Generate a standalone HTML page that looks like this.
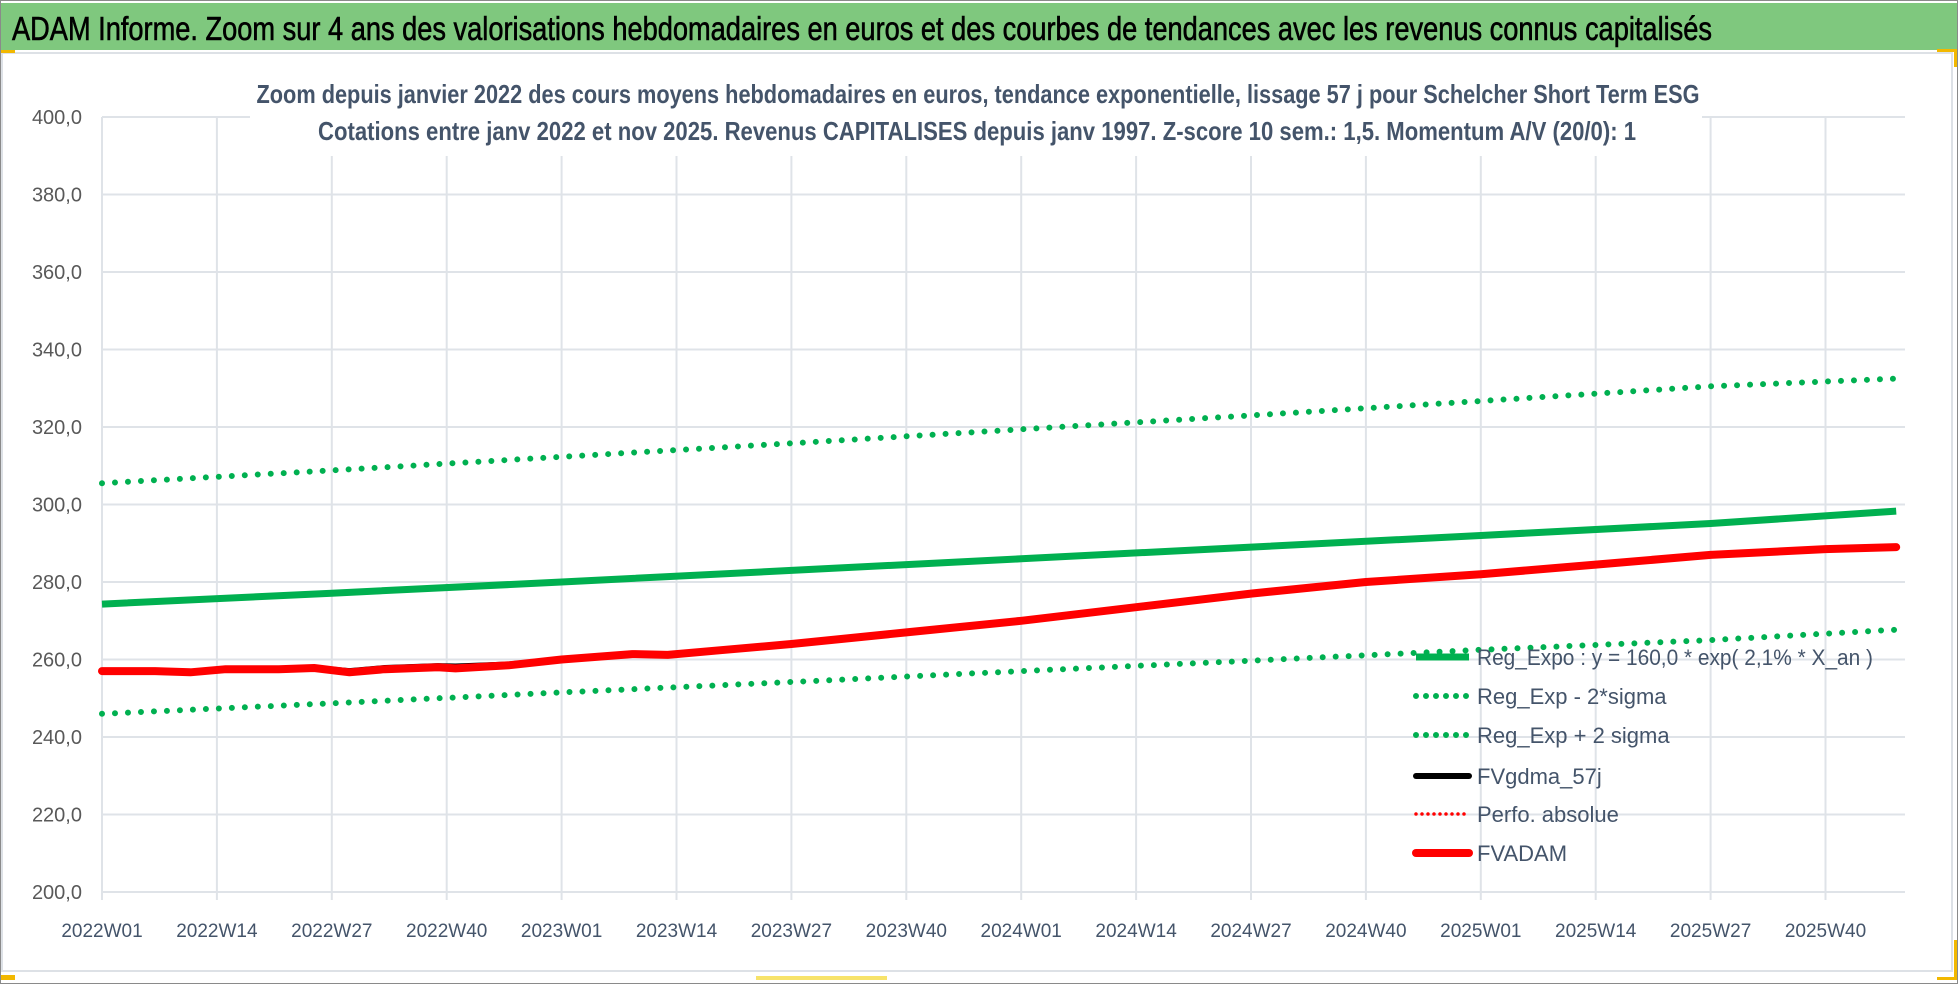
<!DOCTYPE html>
<html><head><meta charset="utf-8">
<style>
html,body{margin:0;padding:0;background:#fff;}
svg{display:block;}
text{font-family:"Liberation Sans",sans-serif;}
</style></head>
<body>
<svg id="chart" width="1958" height="984" viewBox="0 0 1958 984" xmlns="http://www.w3.org/2000/svg">
<rect x="0.5" y="0.5" width="1957" height="983" fill="#fff" stroke="#8a8a8a"/>
<rect x="1" y="3" width="1956" height="47" fill="#7fc87e"/>
<text x="12" y="40" font-size="33" textLength="1700" lengthAdjust="spacingAndGlyphs" fill="#000" stroke="#000" stroke-width="0.6">ADAM Informe. Zoom sur 4 ans des valorisations hebdomadaires en euros et des courbes de tendances avec les revenus connus capitalisés</text>
<rect x="2" y="53" width="1950" height="918" fill="none" stroke="#dde1e6" stroke-width="2"/>
<rect x="1" y="50" width="14" height="3" fill="#f2b800"/>
<rect x="1937" y="49" width="19" height="3" fill="#f2b800"/>
<rect x="1954" y="49" width="3" height="18" fill="#f2b800"/>
<rect x="756" y="976" width="131" height="4" fill="#f7e36a"/>
<rect x="1" y="975" width="14" height="5" fill="#f2b800"/>
<rect x="1954" y="940" width="3" height="40" fill="#f2b800"/>
<rect x="1937" y="977" width="19" height="3" fill="#f2b800"/>
<g id="grid"></g>
<rect x="250" y="60" width="1452" height="96" fill="#fff"/>
<text x="978" y="103" font-size="26" font-weight="bold" text-anchor="middle" textLength="1443" lengthAdjust="spacingAndGlyphs" fill="#44546a">Zoom depuis janvier 2022 des cours moyens hebdomadaires en euros, tendance exponentielle, lissage 57 j pour Schelcher Short Term ESG</text>
<text x="977" y="140" font-size="26" font-weight="bold" text-anchor="middle" textLength="1318" lengthAdjust="spacingAndGlyphs" fill="#44546a">Cotations entre janv 2022 et nov 2025. Revenus CAPITALISES depuis janv 1997. Z-score 10 sem.: 1,5. Momentum A/V (20/0): 1</text>
<g id="series"></g>
<g id="legend"></g>
</svg>
<script>
const xTickLabels = ["2022W01","2022W14","2022W27","2022W40","2023W01","2023W14","2023W27","2023W40","2024W01","2024W14","2024W27","2024W40","2025W01","2025W14","2025W27","2025W40"];
const yTicks = [200,220,240,260,280,300,320,340,360,380,400];
const regWeeks = [0,26,52,78,104,130,156,182,203];
const regExpo = [274.3,277.1,280.0,283.0,286.0,289.0,292.0,295.1,298.3];
const regMinus = [246.0,248.7,251.5,254.2,257.0,259.7,262.5,265.0,267.7];
const regPlus = [305.5,308.8,312.3,315.8,319.4,323.0,326.7,330.5,332.5];
const adamWeeks = [0,6,10,14,20,24,28,32,38,40,46,52,60,64,70,78,91,104,117,130,143,156,169,182,195,203];
const fvAdam = [257,257,256.7,257.5,257.5,257.8,256.7,257.5,258,257.7,258.5,260,261.4,261.2,262.4,264,267,270,273.5,277,280,282,284.5,287,288.5,289];
const fvGdma = [257,257,256.8,257.4,257.6,257.8,257,257.8,258.3,258.2,258.7,260,261.4,261.2,262.4,264,267,270,273.5,277,280,282,284.5,287,288.5,289];

const NS="http://www.w3.org/2000/svg";
const X0=102, WEEK=114.9/13, XR=1905, Y200=892, Y400=117;
const xs = w => X0 + w*WEEK;
const ys = v => Y200 - (v-200)*(Y200-Y400)/200;
function mk(tag, attrs, parent){const e=document.createElementNS(NS,tag);for(const k in attrs)e.setAttribute(k,attrs[k]);parent.appendChild(e);return e;}
const grid=document.getElementById('grid'), ser=document.getElementById('series'), leg=document.getElementById('legend');

yTicks.forEach(v=>{
  const l=mk('line',{x1:X0,x2:XR,y1:ys(v),y2:ys(v),stroke:'#dfe3e8','stroke-width':2},grid);
  
  
  const t=mk('text',{x:82,y:ys(v)+7,'font-size':20,'text-anchor':'end',fill:'#595959'},grid);
  t.textContent=v.toFixed(1).replace('.',',');
  
  
});
xTickLabels.forEach((lab,i)=>{
  const x=xs(i*13);
  const l=mk('line',{x1:x,x2:x,y1:Y400,y2:Y200+8,stroke:'#dfe3e8','stroke-width':2},grid);
  
  
  const t=mk('text',{x:x,y:937,'font-size':19,'text-anchor':'middle',fill:'#44546a'},grid);
  t.textContent=lab;
  
  
});
function path(weeks, vals){return weeks.map((w,i)=>(i?'L':'M')+xs(w).toFixed(1)+','+ys(vals[i]).toFixed(1)).join(' ');}
const dotted={stroke:'#00b050','stroke-width':6,'stroke-dasharray':'0 13','stroke-linecap':'round',fill:'none'};
const p1=mk('path',Object.assign({d:path(regWeeks,regPlus)},dotted),ser);


const p2=mk('path',Object.assign({d:path(regWeeks,regMinus)},dotted),ser);


const p3=mk('path',{d:path(regWeeks,regExpo),stroke:'#00b050','stroke-width':7,fill:'none','stroke-linejoin':'round'},ser);


const p4=mk('path',{d:path(adamWeeks,fvGdma),stroke:'#000','stroke-width':6,fill:'none','stroke-linejoin':'round'},ser);


const p5=mk('path',{d:path(adamWeeks,fvAdam),stroke:'#ff0000','stroke-width':8,fill:'none','stroke-linejoin':'round','stroke-linecap':'round'},ser);



const legItems=[
 ['Reg_Expo : y = 160,0 * exp( 2,1% *  X_an )',{stroke:'#00b050','stroke-width':7},'legend-reg-expo',396],
 ['Reg_Exp - 2*sigma',{stroke:'#00b050','stroke-width':6,'stroke-dasharray':'0 10','stroke-linecap':'round'},'legend-reg-exp-minus',0],
 ['Reg_Exp + 2 sigma',{stroke:'#00b050','stroke-width':6,'stroke-dasharray':'0 10','stroke-linecap':'round'},'legend-reg-exp-plus',0],
 ['FVgdma_57j',{stroke:'#000','stroke-width':6,'stroke-linecap':'round'},'legend-fvgdma',0],
 ['Perfo. absolue',{stroke:'#ff0000','stroke-width':3.5,'stroke-dasharray':'0 6','stroke-linecap':'round'},'legend-perfo-absolue',0],
 ['FVADAM',{stroke:'#ff0000','stroke-width':8,'stroke-linecap':'round'},'legend-fvadam',0]
];
const legY=[657,696,735,776,814,853];
legItems.forEach((it,i)=>{
  const g=mk('g',{},leg);
  
  
  mk('line',Object.assign({x1:1416,x2:1469,y1:legY[i],y2:legY[i]},it[1]),g);
  const t=mk('text',{x:1477,y:legY[i]+8,'font-size':22,fill:'#44546a'},g);
  if(it[3]){t.setAttribute('textLength',it[3]);t.setAttribute('lengthAdjust','spacingAndGlyphs');}
  t.textContent=it[0];
});
</script>
</body></html>
